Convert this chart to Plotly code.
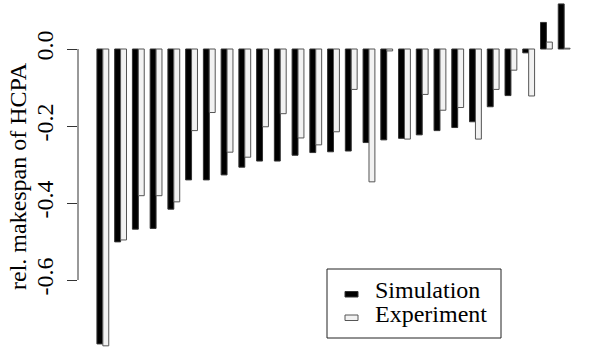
import plotly.graph_objects as go

# Data (relative makespan of HCPA)
simulation = [-0.766, -0.501, -0.468, -0.466, -0.416, -0.340, -0.340, -0.327, -0.307,
              -0.291, -0.291, -0.276, -0.269, -0.267, -0.265, -0.243, -0.236, -0.232,
              -0.223, -0.212, -0.204, -0.189, -0.150, -0.121, -0.010, 0.069, 0.117]
experiment = [-0.771, -0.496, -0.381, -0.381, -0.397, -0.212, -0.165, -0.268, -0.281,
              -0.202, -0.168, -0.231, -0.249, -0.215, -0.105, -0.345, -0.005, -0.234,
              -0.118, -0.159, -0.152, -0.234, -0.105, -0.055, -0.122, 0.018, 0.002]
groups = list(range(len(simulation)))
tick_vals = [-0.6, -0.4, -0.2, 0.0]
tick_text = ["-0.6", "-0.4", "-0.2", "0.0"]

W, H = 592, 347
L, R, T, B = 78, 3, 0, 0
FONT = "Liberation Serif, Times New Roman, serif"
FS = 24

fig = go.Figure()
fig.add_trace(go.Bar(x=groups, y=simulation, name="Simulation",
                     marker=dict(color="#000000", line=dict(color="#333333", width=1)),
                     showlegend=False))
fig.add_trace(go.Bar(x=groups, y=experiment, name="Experiment",
                     marker=dict(color="#f2f2f2", line=dict(color="#555555", width=1)),
                     showlegend=False))

pw = W - L - R
ph = H - T - B
def px2paper_x(px):
    return (px - L) / pw
def px2paper_y(py):
    return 1 - (py - T) / ph

# y range: zero at pixel 49, 385 px per unit
y_top = 49 / 385
y_bot = -(H - 49) / 385

shapes = [
    dict(type="line", xref="paper", yref="y", x0=0, x1=0, y0=-0.6, y1=0.0,
         line=dict(color="#333333", width=1)),
    # legend box
    dict(type="rect", xref="paper", yref="paper",
         x0=px2paper_x(327), x1=px2paper_x(501), y0=px2paper_y(338), y1=px2paper_y(269),
         line=dict(color="#222222", width=1), fillcolor="white"),
    dict(type="rect", xref="paper", yref="paper",
         x0=px2paper_x(345), x1=px2paper_x(358), y0=px2paper_y(297), y1=px2paper_y(291.5),
         line=dict(color="#333333", width=1), fillcolor="#000000"),
    dict(type="rect", xref="paper", yref="paper",
         x0=px2paper_x(345), x1=px2paper_x(358), y0=px2paper_y(320.5), y1=px2paper_y(315),
         line=dict(color="#555555", width=1), fillcolor="#f2f2f2"),
]

annotations = [
    dict(text="rel. makespan of HCPA", xref="paper", yref="paper",
         x=px2paper_x(18), y=px2paper_y(176), textangle=-90, showarrow=False,
         font=dict(family=FONT, size=FS, color="black"), xanchor="center", yanchor="middle"),
    dict(text="Simulation", xref="paper", yref="paper", x=px2paper_x(373), y=px2paper_y(290),
         showarrow=False, xanchor="left", yanchor="middle",
         font=dict(family=FONT, size=FS, color="black")),
    dict(text="Experiment", xref="paper", yref="paper", x=px2paper_x(373), y=px2paper_y(314),
         showarrow=False, xanchor="left", yanchor="middle",
         font=dict(family=FONT, size=FS, color="black")),
]

fig.update_layout(
    width=W, height=H, margin=dict(l=L, r=R, t=T, b=B),
    paper_bgcolor="white", plot_bgcolor="white",
    barmode="group", bargap=1/3, bargroupgap=0,
    xaxis=dict(range=[-1.4, 27.4], visible=False, fixedrange=True),
    yaxis=dict(range=[y_bot, y_top], tickmode="array", tickvals=tick_vals, ticktext=tick_text,
               ticks="outside", ticklen=10, tickcolor="#333333", tickwidth=1,
               tickangle=-90, showgrid=False, zeroline=False, showline=False,
               tickfont=dict(family=FONT, size=FS, color="black"), ticklabelstandoff=4),
    shapes=shapes, annotations=annotations, showlegend=False,
)

fig.write_html("out.html")
